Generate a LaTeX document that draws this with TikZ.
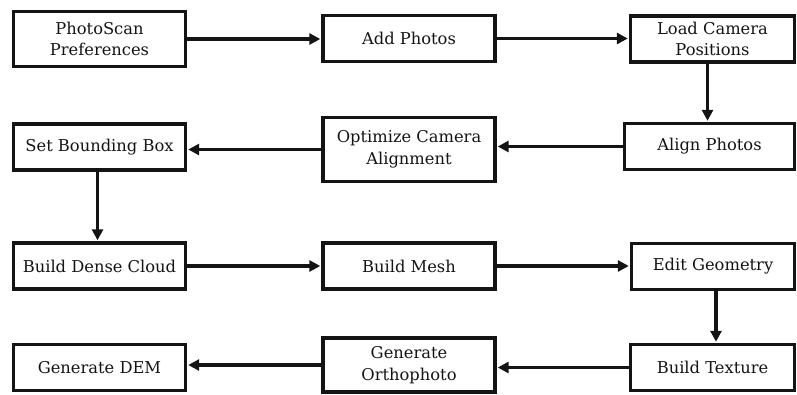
\documentclass[tikz,border=0pt]{standalone}
\usepackage{fontspec}
\setmainfont{DejaVu Serif}
\usepackage{tikz}
\usetikzlibrary{arrows.meta,positioning}
\definecolor{ink}{RGB}{20,20,20}

\begin{document}
\begin{tikzpicture}[x=1pt, y=-1pt,
  every node/.style={font=\fontsize{16.3}{21.5}\selectfont, text=ink},
  stepbox/.style={draw=ink, line width=3.4pt, align=center, inner sep=2pt,
    minimum width=172pt, minimum height=46pt},
  flow/.style={-{Triangle[length=11pt,width=11pt]}, line width=3.4pt, ink, shorten >=1pt}]
\useasboundingbox (0,0) rectangle (797,394);
% ---- row 1
\node[stepbox, minimum height=55pt] (pref) at (99.5,39) {PhotoScan\\Preferences};
\node[stepbox] (add) at (409,38.5) {Add Photos};
\node[stepbox, minimum width=164pt] (load) at (712.5,39) {Load Camera\\Positions};
% ---- row 2
\node[stepbox] (bbox) at (99.5,147) {Set Bounding Box};
\node[stepbox, minimum height=64pt] (optim) at (409,149.5) {Optimize Camera\\Alignment};
\node[stepbox, minimum width=170pt] (align) at (709.5,146.5) {Align Photos};
% ---- row 3
\node[stepbox] (dense) at (99.5,266) {Build Dense Cloud};
\node[stepbox] (mesh) at (409,266) {Build Mesh};
\node[stepbox, minimum width=163pt] (edit) at (713,266.5) {Edit Geometry};
% ---- row 4
\node[stepbox] (dem) at (99.5,367.5) {Generate DEM};
\node[stepbox, minimum height=54pt] (ortho) at (409,365) {Generate\\Orthophoto};
\node[stepbox, minimum width=164pt] (texture) at (712.5,367.5) {Build Texture};
% ---- arrows
\draw[flow] (pref) -- (pref -| add.west);
\draw[flow] (add) -- (add -| load.west);
\draw[flow] ([xshift=-5pt]load.south) -- ([xshift=-5pt]load.south |- align.north);
\draw[flow] (align) -- (align -| optim.east);
\draw[flow] (optim) -- (optim -| bbox.east);
\draw[flow] ([xshift=-2pt]bbox.south) -- ([xshift=-2pt]bbox.south |- dense.north);
\draw[flow] (dense) -- (mesh);
\draw[flow] (mesh) -- (mesh -| edit.west);
\draw[flow] ([xshift=3pt]edit.south) -- ([xshift=3pt]edit.south |- texture.north);
\draw[flow] (texture) -- (texture -| ortho.east);
\draw[flow] (ortho) -- (ortho -| dem.east);
\end{tikzpicture}
\end{document}
